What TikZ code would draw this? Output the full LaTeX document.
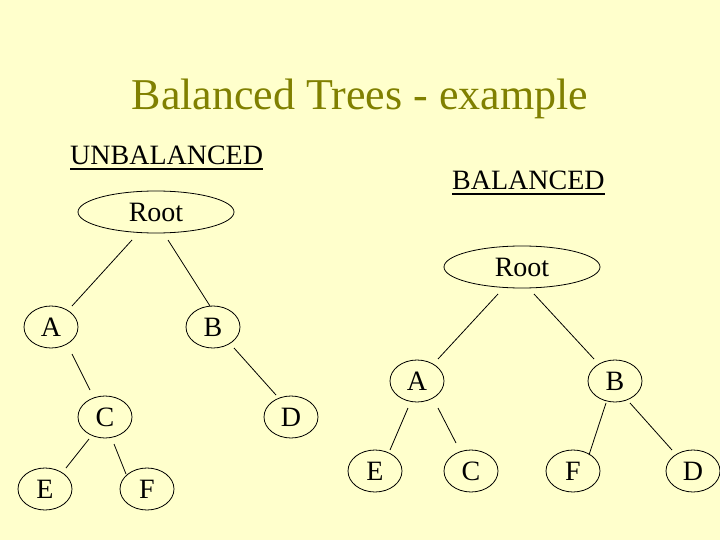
\documentclass[tikz,border=0pt]{standalone}
\usepackage{fontspec}
\setmainfont{Liberation Serif}
\usetikzlibrary{shapes.geometric,calc}
\definecolor{bg}{RGB}{255,255,204}
\definecolor{titleol}{RGB}{128,128,0}
\begin{document}
\begin{tikzpicture}[x=1pt,y=-1pt,
  tn/.style={draw, ellipse, line width=0.8pt, inner sep=0pt, minimum width=54pt, minimum height=42pt, font=\fontsize{28}{34}\selectfont},
  rt/.style={tn, minimum width=156pt},
  edge/.style={line width=0.8pt},
  lbl/.style={inner sep=0pt, anchor=base west, font=\fontsize{28}{34}\selectfont},
  uline/.style={line width=1.6pt}]
\fill[bg] (0,0) rectangle (720,540);
\useasboundingbox (0,0) rectangle (720,540);
\node[inner sep=0pt, anchor=base, text=titleol, font=\fontsize{44}{52}\selectfont] (title) at (360,110) {Balanced Trees - example};
\node[lbl] (ub) at (70,165) {UNBALANCED};
\draw[uline] ($(ub.base west)+(0,4)$) -- ($(ub.base east)+(0,4)$);
\node[lbl] (bl) at (452,190) {BALANCED};
\draw[uline] ($(bl.base west)+(0,4)$) -- ($(bl.base east)+(0,4)$);
% unbalanced tree
\node[rt] (rU) at (156,212) {Root};
\node[tn] (aU) at (51,327) {A};
\node[tn] (bU) at (213,327) {B};
\node[tn] (cU) at (105,417) {C};
\node[tn] (dU) at (291,417) {D};
\node[tn] (eU) at (45,489) {E};
\node[tn] (fU) at (147,489) {F};
\draw[edge] ($(rU)+(-24,28)$) -- ($(aU)+(21,-21)$);
\draw[edge] ($(rU)+(12,28)$) -- ($(bU)+(-3,-21)$);
\draw[edge] ($(aU)+(21,27)$) -- ($(cU)+(-15,-27)$);
\draw[edge] ($(bU)+(21,21)$) -- ($(dU)+(-15,-22)$);
\draw[edge] ($(cU)+(-16,22)$) -- ($(eU)+(21,-21)$);
\draw[edge] ($(cU)+(9,27)$) -- ($(fU)+(-21,-15)$);
% balanced tree
\node[rt] (rB) at (522,267) {Root};
\node[tn] (aB) at (417,381) {A};
\node[tn] (bB) at (615,381) {B};
\node[tn] (eB) at (375,471) {E};
\node[tn] (cB) at (471,471) {C};
\node[tn] (fB) at (573,471) {F};
\node[tn] (dB) at (693,471) {D};
\draw[edge] ($(rB)+(-24,27)$) -- ($(aB)+(21,-22)$);
\draw[edge] ($(rB)+(12,27)$) -- ($(bB)+(-21,-22)$);
\draw[edge] ($(aB)+(-9,27)$) -- ($(eB)+(15,-21)$);
\draw[edge] ($(aB)+(21,27)$) -- ($(cB)+(-15,-28)$);
\draw[edge] ($(bB)+(-9,22)$) -- ($(fB)+(16,-16)$);
\draw[edge] ($(bB)+(15,22)$) -- ($(dB)+(-21,-21)$);
\end{tikzpicture}
\end{document}
